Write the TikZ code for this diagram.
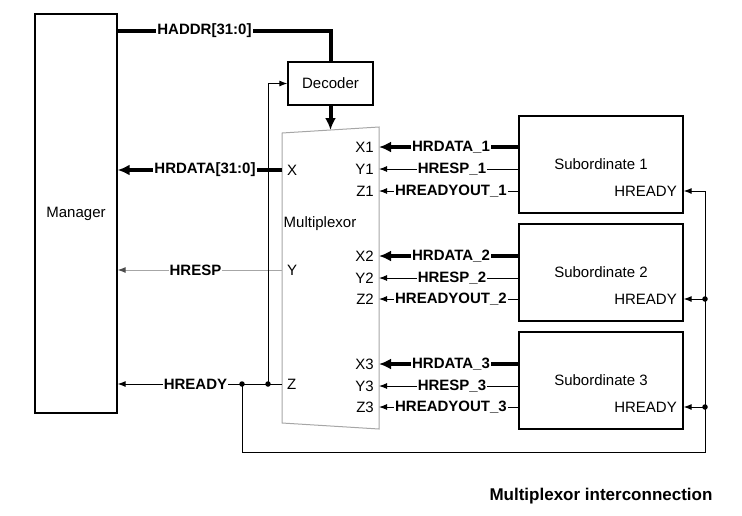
\documentclass[tikz,border=0pt]{standalone}
\usepackage{fontspec}
\setmainfont{Liberation Sans}
\usepackage{tikz}
\usetikzlibrary{shapes}
\usetikzlibrary{arrows.meta}
\tikzset{
  sig_text/.style = {inner sep=0pt, font=\fontsize{15}{17}\selectfont},
  block_node/.style = {sig_text, rectangle, draw=black, line width=1.3pt},% bloc
  port_node/.style = {sig_text},% nom de port
  sig_label/.style = {sig_text, font=\fontsize{15}{17}\selectfont\bfseries,
    fill=white, inner xsep=1pt, inner ysep=1pt},% nom de signal
  sig_line/.style = {line width=1pt, -{Latex[length=8pt,width=6pt]}},% fil simple
  bus_line/.style = {line width=4pt, -{Latex[length=12pt,width=11pt]}},% bus
  junction/.style = {circle, fill=black, inner sep=0pt, minimum size=5.5pt}% noeud
}

\begin{document}
\begin{tikzpicture}[x=1pt, y=-1pt]
    \useasboundingbox (0,0) rectangle (742,515);
    % blocs
    \node [block_node, minimum width=82pt, minimum height=399pt] (manager) at (76,213.5) {Manager};
    \node [block_node, minimum width=85pt, minimum height=43pt] (decoder) at (330.5,83.5) {Decoder};
    \node [block_node, minimum width=164pt, minimum height=97pt] (sub1) at (601,164.5) {Subordinate 1};
    \node [block_node, minimum width=164pt, minimum height=97pt] (sub2) at (601,272.5) {Subordinate 2};
    \node [block_node, minimum width=164pt, minimum height=97pt] (sub3) at (601,380.5) {Subordinate 3};
    \node [port_node, anchor=east] (s1r) at (677,191) {HREADY};
    \node [port_node, anchor=east] (s2r) at (677,299) {HREADY};
    \node [port_node, anchor=east] (s3r) at (677,407) {HREADY};

    % multiplexeur
    \draw [gray!70, line width=1pt] (282,133) coordinate (mtl) -- (379,127) coordinate (mtr)
        -- (379,429) coordinate (mbr) -- (282,423) coordinate (mbl) -- cycle;
    \node [port_node] (mux) at (320,224) {Multiplexor};
    \node [port_node, anchor=west] (mx) at (287,170) {X};
    \node [port_node, anchor=west] (my) at (287,270) {Y};
    \node [port_node, anchor=west] (mz) at (287,384) {Z};
    \node [port_node, anchor=east] (x1) at (374,147) {X1};
    \node [port_node, anchor=east] (y1) at (374,169) {Y1};
    \node [port_node, anchor=east] (z1) at (374,191) {Z1};
    \node [port_node, anchor=east] (x2) at (374,256) {X2};
    \node [port_node, anchor=east] (y2) at (374,278) {Y2};
    \node [port_node, anchor=east] (z2) at (374,299) {Z2};
    \node [port_node, anchor=east] (x3) at (374,364) {X3};
    \node [port_node, anchor=east] (y3) at (374,386) {Y3};
    \node [port_node, anchor=east] (z3) at (374,407) {Z3};
    \coordinate (mdec) at (330.5,130);

    % adresse et decodeur
    \coordinate (haddr) at (117,31);
    \draw [line width=4pt] (haddr) -| (decoder.north);
    \draw [bus_line] (decoder.south) -- (mdec);
    \node [sig_label] (l_haddr) at (204.5,31) {HADDR[31:0]};

    % retour vers le manager
    \draw [bus_line] (mtl |- mx) -- (manager.east |- mx);
    \draw [sig_line, gray!70, -{Latex[length=8pt,width=6pt,black!70]}] (mtl |- my) -- (manager.east |- my);
    \draw [sig_line] (mtl |- mz) -- (manager.east |- mz);
    \node [sig_label] (l_hrdata) at (205,170) {HRDATA[31:0]};
    \node [sig_label] (l_hresp) at (195.5,270) {HRESP};
    \node [sig_label] (l_hready) at (195.5,384) {HREADY};

    % boucle HREADY
    \node [junction] (d1) at (242,384) {};
    \node [junction] (d2) at (268,384) {};
    \node [junction] (d3) at (705,299) {};
    \node [junction] (d4) at (705,407) {};
    \coordinate (hr_low) at (705,452);
    \coordinate (hr_top) at (705,191);
    \draw [sig_line] (d2.center) |- (decoder.west);
    \draw [sig_line] (d1.center) |- (hr_low) -- (hr_top) -- (sub1.east |- s1r);
    \draw [sig_line] (d3.center) -- (sub2.east |- s2r);
    \draw [sig_line] (d4.center) -- (sub3.east |- s3r);

    % subordonnes vers le multiplexeur
    \draw [bus_line] (sub1.west |- x1) -- (mtr |- x1);
    \draw [sig_line] (sub1.west |- y1) -- (mtr |- y1);
    \draw [sig_line] (sub1.west |- z1) -- (mtr |- z1);
    \draw [bus_line] (sub2.west |- x2) -- (mtr |- x2);
    \draw [sig_line] (sub2.west |- y2) -- (mtr |- y2);
    \draw [sig_line] (sub2.west |- z2) -- (mtr |- z2);
    \draw [bus_line] (sub3.west |- x3) -- (mtr |- x3);
    \draw [sig_line] (sub3.west |- y3) -- (mtr |- y3);
    \draw [sig_line] (sub3.west |- z3) -- (mtr |- z3);
    \node [sig_label] (l_hrdata1) at (451,147) {HRDATA\_1};
    \node [sig_label] (l_hresp1) at (452,169) {HRESP\_1};
    \node [sig_label] (l_hrout1) at (451,191) {HREADYOUT\_1};
    \node [sig_label] (l_hrdata2) at (451,256) {HRDATA\_2};
    \node [sig_label] (l_hresp2) at (452,278) {HRESP\_2};
    \node [sig_label] (l_hrout2) at (451,299) {HREADYOUT\_2};
    \node [sig_label] (l_hrdata3) at (451,364) {HRDATA\_3};
    \node [sig_label] (l_hresp3) at (452,386) {HRESP\_3};
    \node [sig_label] (l_hrout3) at (451,407) {HREADYOUT\_3};

    \node [font=\fontsize{17}{20}\selectfont\bfseries] (caption) at (601,496) {Multiplexor interconnection};
\end{tikzpicture}
\end{document}
